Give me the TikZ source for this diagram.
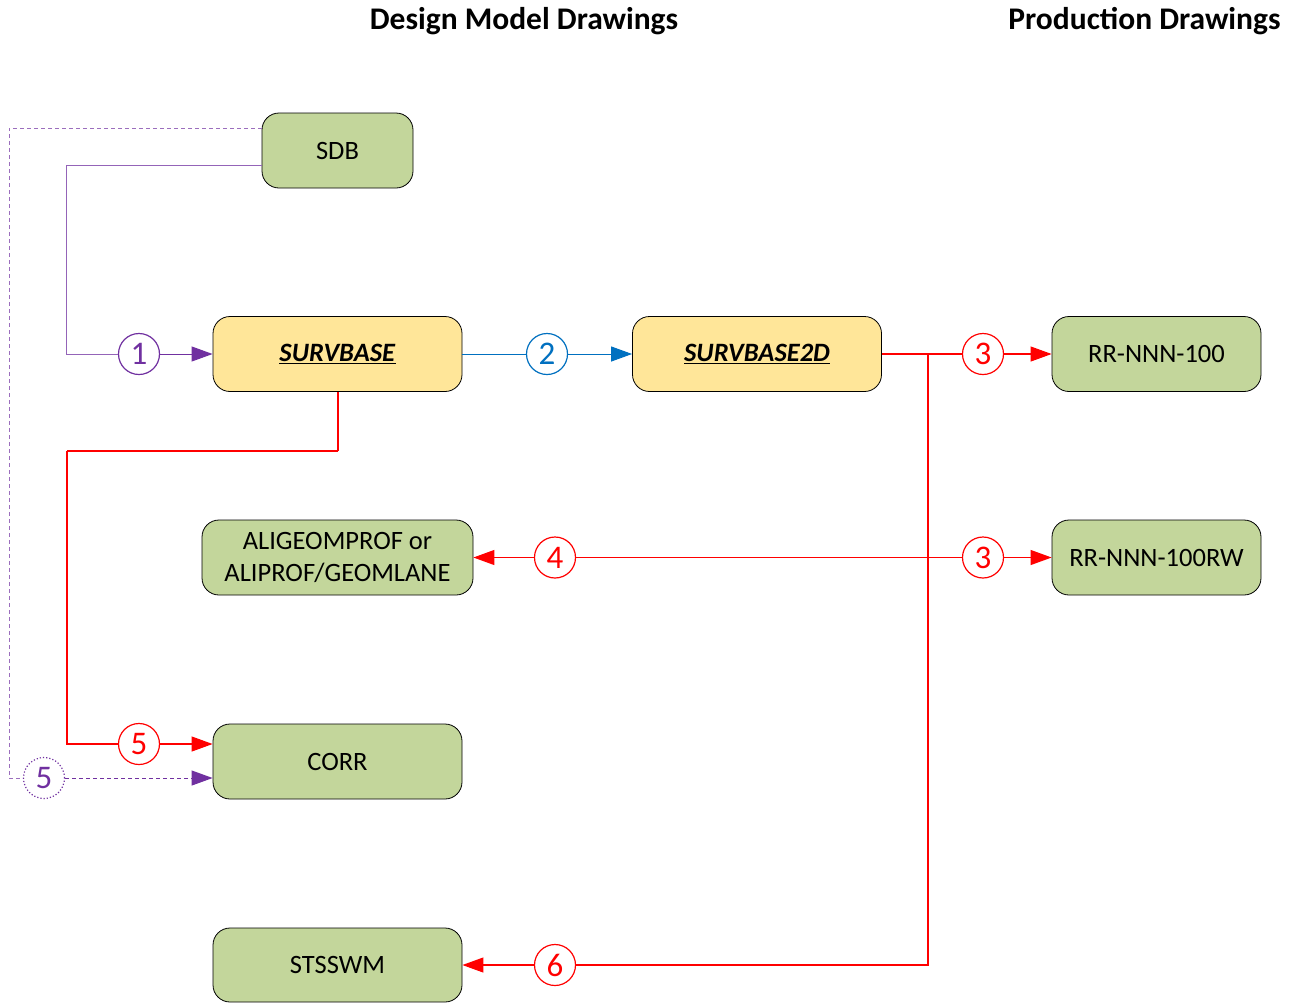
\documentclass[tikz,border=0pt]{standalone}
\usepackage{fontspec}
\setmainfont{Carlito}
\usetikzlibrary{arrows.meta,calc}
\definecolor{boxgreen}{HTML}{C3D69B}
\definecolor{boxyellow}{HTML}{FFE699}
\definecolor{mypurple}{HTML}{7030A0}
\definecolor{myblue}{HTML}{0070C0}
\definecolor{myred}{HTML}{FF0000}
\tikzset{
  box/.style={draw=black, line width=0.8pt, rounded corners=17pt, fill=boxgreen,
    minimum height=75pt, inner sep=0pt, align=center,
    font=\fontsize{26.5}{32}\selectfont},
  ybox/.style={box, fill=boxyellow},
  num/.style={circle, draw, line width=1.2pt, fill=white, minimum size=41pt, inner sep=0pt,
    font=\fontsize{33}{33}\selectfont},
  ttl/.style={font=\bfseries\fontsize{31.5}{34}\selectfont},
  tip/.style={-{Triangle[length=21pt,width=15pt]}},
  purp/.style={draw=mypurple!75, line width=1pt},
  purpd/.style={draw=mypurple!70, line width=1pt, dash pattern=on 4pt off 3pt},
  blu/.style={draw=myblue, line width=1pt},
  rd/.style={draw=myred, color=myred, line width=1.1pt},
}
\begin{document}
\begin{tikzpicture}[x=1pt,y=-1pt]
\useasboundingbox (0,0) rectangle (1292,1002);
% titles
\node[ttl] (t1) at (524,21) {Design Model Drawings};
\node[ttl] (t2) at (1144.5,21) {Production Drawings};
% boxes
\node[box, minimum width=151pt] (sdb) at (337.5,150.5) {SDB};
\node[ybox, minimum width=249pt] (sb) at (337.5,354) {\underline{\textbf{\textit{SURVBASE}}}};
\node[ybox, minimum width=249pt] (s2d) at (757,354) {\underline{\textbf{\textit{SURVBASE2D}}}};
\node[box, minimum width=209pt] (rr) at (1156.5,354) {RR-NNN-100};
\node[box, minimum width=209pt] (rrw) at (1156.5,557.5) {RR-NNN-100RW};
\node[box, minimum width=271pt] (ali) at (337.5,557.5) {ALIGEOMPROF or\\ALIPROF/GEOMLANE};
\node[box, minimum width=249pt] (corr) at (337.5,761.5) {CORR};
\node[box, minimum width=249pt, minimum height=74pt] (sts) at (337.5,965) {STSSWM};
% number circles
\node[num, draw=mypurple, text=mypurple] (c1) at (139,354) {1};
\node[num, draw=myblue, text=myblue] (c2) at (547,354) {2};
\node[num, draw=myred, text=myred] (c3a) at (983,354) {3};
\node[num, draw=myred, text=myred] (c3b) at (983,557.5) {3};
\node[num, draw=myred, text=myred] (c4) at (555,557.5) {4};
\node[num, draw=myred, text=myred] (c5) at (139,744) {5};
\node[num, draw=mypurple, text=mypurple, dotted] (c5b) at (44,778) {5};
\node[num, draw=myred, text=myred] (c6) at (555,965) {6};
% bend points
\coordinate (pa) at (66,165);
\coordinate (pb) at (9,128);
\coordinate (rb1) at (338,451);
\coordinate (rb2) at (67,451);
\coordinate (rj) at (928,354);
\coordinate (rk) at (928,965);
% purple solid
\draw[purp] ($(sdb.west)+(0,14.5)$) -- (pa) |- (c1.west);
\draw[purp, tip, mypurple] (c1.east) -- (sb.west);
% purple dashed
\draw[purpd] ($(sdb.west)+(0,-22.5)$) -- (pb) |- (c5b.west);
\draw[purpd, tip, mypurple] (c5b.east) -- (corr.west |- c5b);
% blue
\draw[blu] (sb.east) -- (c2.west);
\draw[blu, tip] (c2.east) -- (s2d.west);
% red from SURVBASE
\draw[rd] (sb.south -| rb1) -- (rb1);
\draw[rd] (rb1) -- (rb2);
\draw[rd] (rb2) |- (c5.west);
\draw[rd, tip] (c5.east) -- (corr.west |- c5);
% red from SURVBASE2D
\draw[rd, line width=1.6pt] (s2d.east) -- (rj);
\draw[rd] (rj) -- (c3a.west);
\draw[rd, tip] (c3a.east) -- (rr.west);
\draw[rd] (rj) -- (rk) -- (c6.east);
\draw[rd, tip] (c6.west) -- (sts.east);
\draw[rd] (c3b.west) -- (c4.east);
\draw[rd, tip] (c4.west) -- (ali.east);
\draw[rd, tip] (c3b.east) -- (rrw.west);
\end{tikzpicture}
\end{document}
